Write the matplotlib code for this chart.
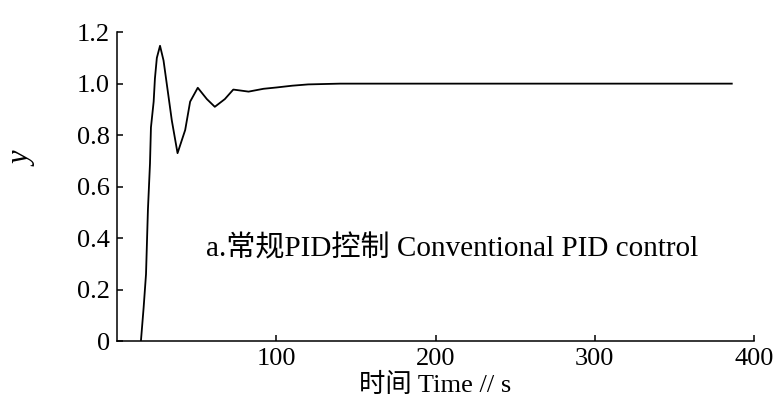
import matplotlib
matplotlib.use('Agg')
import matplotlib.pyplot as plt

# step response
time_s = [15, 16.7, 18.2, 19.4, 20.7, 21.3, 23, 23.8, 25, 27, 29.2, 32.4, 34.4, 38,
          42.8, 45.9, 50.7, 56.4, 61.4, 67.7, 73, 82.6, 92, 100, 110, 120, 140,
          200, 300, 386]
response = [0, 0.13, 0.26, 0.51, 0.69, 0.83, 0.93, 1.02, 1.10, 1.147, 1.09, 0.947,
            0.857, 0.73, 0.82, 0.93, 0.984, 0.94, 0.91, 0.94, 0.977, 0.969, 0.98,
            0.985, 0.992, 0.997, 1.0, 1.0, 1.0, 1.0]

x_ticks = [100, 200, 300, 400]
y_ticks = [0, 0.2, 0.4, 0.6, 0.8, 1.0, 1.2]
y_tick_labels = ['0', '0.2', '0.4', '0.6', '0.8', '1.0', '1.2']

fonts = ['Liberation Serif', 'Noto Sans CJK SC']
plt.rcParams['font.family'] = fonts

fig = plt.figure(figsize=(7.75, 4.12), dpi=100)
ax = fig.add_axes([0.151, 0.172, 0.822, 0.750])

ax.plot(time_s, response, color='black', linewidth=1.3)

ax.set_xlim(0, 400)
ax.set_ylim(0, 1.2)
ax.set_xticks(x_ticks)
ax.set_yticks(y_ticks)
ax.set_yticklabels(y_tick_labels)

for side in ['top', 'right']:
    ax.spines[side].set_visible(False)
for side in ['left', 'bottom']:
    ax.spines[side].set_linewidth(1.1)

ax.tick_params(direction='in', length=4, width=1.1, labelsize=19, pad=5)

ax.set_xlabel('时间 Time // s', fontsize=19, labelpad=2)
ax.set_ylabel('y', fontsize=22, style='italic')
ax.yaxis.set_label_coords(-0.125, 0.59)

ax.text(56, 0.36, 'a.常规PID控制 Conventional PID control', fontsize=21,
        ha='left', va='center')

fig.savefig('out.png', dpi=100)
